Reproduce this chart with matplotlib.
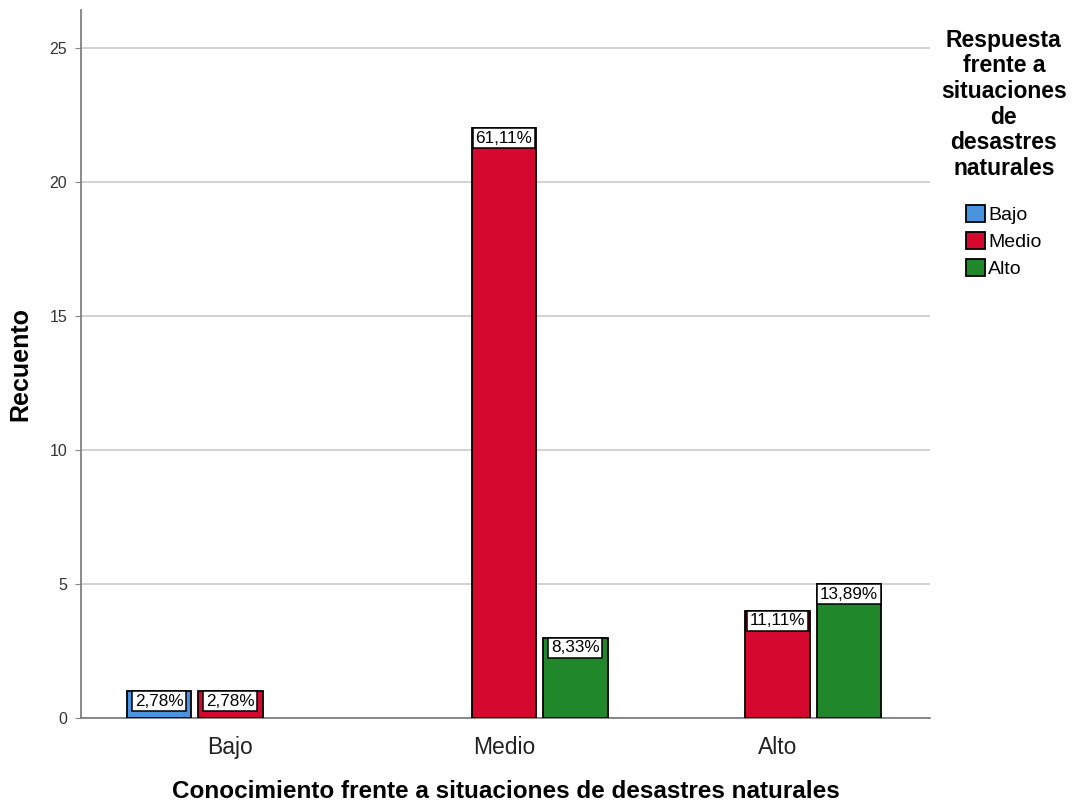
import numpy as np
import matplotlib
matplotlib.use("Agg")
import matplotlib.pyplot as plt

plt.rcParams['font.family'] = ['Liberation Sans', 'DejaVu Sans']

# --- Datos ---
categorias = ["Bajo", "Medio", "Alto"]
series = ["Bajo", "Medio", "Alto"]
colores = ["#4a93df", "#d5082f", "#20872b"]
# recuento por categoría de conocimiento (filas) y respuesta (columnas)
recuento = [
    [1, 1, 0],
    [0, 22, 3],
    [0, 4, 5],
]
total = 36

fig = plt.figure(figsize=(10.73, 8.09), dpi=100)
ax = fig.add_axes([0.0755, 0.1125, 0.791, 0.875])

x = np.arange(len(categorias))
ancho = 0.237
paso = 0.26

for j, serie in enumerate(series):
    vals = np.array([fila[j] for fila in recuento])
    pos = x + (j - 1) * paso
    mask = vals > 0
    ax.bar(pos[mask], vals[mask], width=ancho, color=colores[j],
           edgecolor="black", linewidth=1.3, zorder=3, label=serie)
    for p, v in zip(pos[mask], vals[mask]):
        pct = f"{v / total * 100:.2f}%".replace(".", ",")
        ax.text(p, v - 0.1, pct, ha="center", va="top", fontsize=12.3,
                zorder=5,
                bbox=dict(boxstyle="square,pad=0.15", facecolor="white",
                          edgecolor="black", linewidth=1.1))

ax.set_xlim(-0.545, 2.555)
ax.set_ylim(0, 26.4)
ax.set_yticks([0, 5, 10, 15, 20, 25])
ax.set_xticks(x)
ax.set_xticklabels(categorias, fontsize=16.5, color="#222222")
ax.tick_params(axis="x", length=0, pad=13)
ax.tick_params(axis="y", length=4, labelsize=11.5, labelcolor="#333333",
               color="#888888", pad=6)

ax.grid(axis="y", color="#cfcfcf", linewidth=1.3, zorder=0)
for lado in ["top", "right"]:
    ax.spines[lado].set_visible(False)
for lado in ["left", "bottom"]:
    ax.spines[lado].set_color("#777777")
    ax.spines[lado].set_linewidth(1.2)

ax.set_ylabel("Recuento", fontsize=18, fontweight="bold", labelpad=12)
ax.set_xlabel("Conocimiento frente a situaciones de desastres naturales",
              fontsize=17.5, fontweight="bold", labelpad=15)

leg = ax.legend(title="Respuesta\nfrente a\nsituaciones\nde\ndesastres\nnaturales",
                loc="upper left", bbox_to_anchor=(1.004, 0.985), frameon=False,
                fontsize=14, title_fontsize=16.5, handlelength=1.0,
                handleheight=1.0, handletextpad=0.15, labelspacing=0.38,
                borderaxespad=0.0)
leg.get_title().set_fontweight("bold")
leg.get_title().set_multialignment("center")
leg.get_title().set_linespacing(1.15)
leg._legend_box.align = "center"
leg._legend_box.sep = 18

fig.savefig("out.png", dpi=100)
